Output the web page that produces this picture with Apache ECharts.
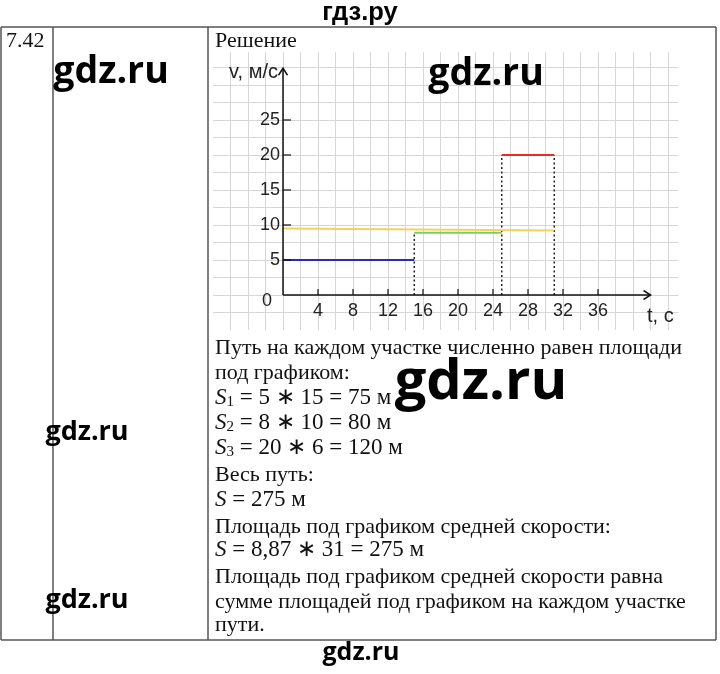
<!DOCTYPE html>
<html><head><meta charset="utf-8">
<script src="https://cdn.jsdelivr.net/npm/echarts@6/dist/echarts.min.js"></script>
<style>html,body{margin:0;padding:0;background:#fff}#c{width:720px;height:674px}</style>
</head><body><div id="c"></div>
<script>
// ---- data ----
const xTicks = [4, 8, 12, 16, 20, 24, 28, 32, 36];
const yTicks = [5, 10, 15, 20, 25];
const blueT = [0, 15], blueV = [5, 5];
const greenT = [15, 25], greenV = [8.9, 8.9];
const redT = [25, 31], redV = [20, 20];
const avgT = [0, 31], avgV = [9.5, 9.2];
const dropT = [15, 25, 31], dropTop = [8.9, 20, 20];
const axisEndT = 42, axisEndV = 32.4;
const xName = 't, c', yName = 'v, м/с';
const taskNo = '7.42';
const heading = 'Решение';
const bodyLines = [
  'Путь на каждом участке численно равен площади',
  'под графиком:',
  '{i|S}{sub|1}{m| = 5 ∗ 15 = 75 м}',
  '{i|S}{sub|2}{m| = 8 ∗ 10 = 80 м}',
  '{i|S}{sub|3}{m| = 20 ∗ 6 = 120 м}',
  'Весь путь:',
  '{i|S}{m| = 275 м}',
  'Площадь под графиком средней скорости:',
  '{i|S}{m| = 8,87 ∗ 31 = 275 м}',
  'Площадь под графиком средней скорости равна',
  'сумме площадей под графиком на каждом участке',
  'пути.'
];
const bodyY = [348, 373, 398, 423, 448, 475, 500, 527, 550, 577, 602, 625];

const pair = (ts, vs) => ts.map((t, i) => [t, vs[i]]);

const chart = echarts.init(document.getElementById('c'), null, {renderer: 'canvas'});

const serif = '"Liberation Serif", "Times New Roman", serif';
const sans = '"Liberation Sans", Arial, sans-serif';
const wm = '"Open Sans", "DejaVu Sans", sans-serif';

const graphics = [];
// table borders
const border = {stroke: '#555', lineWidth: 1.5};
[[1, 27, 716, 27], [1, 640, 716, 640], [1, 27, 1, 640], [716, 27, 716, 640], [53, 27, 53, 640], [208, 27, 208, 640]]
  .forEach(s => graphics.push({type: 'line', shape: {x1: s[0], y1: s[1], x2: s[2], y2: s[3]}, style: border, z: 10}));
graphics.push({type: 'text', x: 6, y: 41, style: {text: taskNo, font: '22px ' + serif, fill: '#111', verticalAlign: 'middle'}});
graphics.push({type: 'text', x: 215, y: 41, style: {text: heading, font: '22px ' + serif, fill: '#111', verticalAlign: 'middle'}});
bodyLines.forEach((t, i) => {
  graphics.push({type: 'text', x: 215, y: bodyY[i], style: {
    text: t, font: '22px ' + serif, fill: '#111', verticalAlign: 'middle',
    rich: {
      i: {fontStyle: 'italic', fontSize: 23, fontFamily: serif, lineHeight: 24},
      m: {fontSize: 23, fontFamily: serif, lineHeight: 24},
      sub: {fontSize: 15, fontFamily: serif, lineHeight: 15, verticalAlign: 'bottom'}
    }
  }});
});
// axis names
graphics.push({type: 'text', x: 278, y: 72, style: {text: yName, font: '20px ' + sans, fill: '#222', align: 'right', verticalAlign: 'middle'}, z: 20});
graphics.push({type: 'text', x: 647, y: 316, style: {text: xName, font: '20px ' + sans, fill: '#222', align: 'left', verticalAlign: 'middle'}, z: 20});
// watermarks: text, center x, center y, size, family
const marks = [
  ['гдз.ру', 360, 13, 25.5, sans],
  ['gdz.ru', 111, 72, 37.5, wm],
  ['gdz.ru', 486, 74, 37.5, wm],
  ['gdz.ru', 481, 383, 56, wm],
  ['gdz.ru', 87, 432, 27, wm],
  ['gdz.ru', 87, 600, 27, wm],
  ['gdz.ru', 361, 653, 25, wm]
];
marks.forEach(m => graphics.push({type: 'text', x: m[1], y: m[2], z: 50,
  style: {text: m[0], font: 'bold ' + m[3] + 'px ' + m[4], fill: '#000', align: 'center', verticalAlign: 'middle'}}));

const lineS = (data, color, extra) => Object.assign({
  type: 'line', xAxisIndex: 0, yAxisIndex: 0, data, showSymbol: false, symbol: 'none',
  lineStyle: {color, width: 2}, silent: true, animation: false, z: 5
}, extra || {});

const series = [
  // axes lines with chevron arrows
  {type: 'line', xAxisIndex: 0, yAxisIndex: 0, animation: false, silent: true, z: 8,
    data: [{value: [0, 0], symbol: 'none'}, {value: [axisEndT, 0], symbol: 'path://M0,0L10,6L0,12', symbolSize: [7, 9], symbolOffset: [-3.5, 0]}],
    showSymbol: true, showAllSymbol: true, lineStyle: {color: '#111', width: 1.5},
    itemStyle: {color: 'none', borderColor: '#111', borderWidth: 1.5}},
  {type: 'line', xAxisIndex: 0, yAxisIndex: 0, animation: false, silent: true, z: 8,
    data: [{value: [0, 0], symbol: 'none'}, {value: [0, axisEndV], symbol: 'path://M0,12L6,0L12,12', symbolSize: [9, 7], symbolOffset: [0, 3.5]}],
    showSymbol: true, showAllSymbol: true, lineStyle: {color: '#111', width: 1.5},
    itemStyle: {color: 'none', borderColor: '#111', borderWidth: 1.5}},
  // ticks
  {type: 'scatter', xAxisIndex: 0, yAxisIndex: 0, data: xTicks.map(t => [t, 0]), symbol: 'rect',
    symbolSize: [1.5, 6], symbolOffset: [0, -3], itemStyle: {color: '#111'}, silent: true, animation: false, z: 8},
  {type: 'scatter', xAxisIndex: 0, yAxisIndex: 0, data: yTicks.map(v => [0, v]), symbol: 'rect',
    symbolSize: [8, 1.5], symbolOffset: [4, 0], itemStyle: {color: '#111'}, silent: true, animation: false, z: 8},
  // data segments
  lineS(pair(avgT, avgV), '#f2d35a'),
  lineS(pair(blueT, blueV), '#2b2bb8'),
  lineS(pair(greenT, greenV), '#78d060'),
  lineS(pair(redT, redV), '#e82a2a')
];
dropT.forEach((t, i) => series.push(lineS([[t, 0], [t, dropTop[i]]], '#222', {lineStyle: {color: '#222', width: 1.5, type: [2, 2.5]}, z: 4})));

chart.setOption({
  animation: false,
  backgroundColor: '#fff',
  grid: [
    {left: 213, top: 52, width: 465.5, height: 278},
    {left: 283, top: 68.2, width: 367.5, height: 226.8}
  ],
  xAxis: [
    {type: 'value', gridIndex: 0, min: -8, max: 45.2, interval: 2,
      axisLine: {show: false}, axisTick: {show: false}, axisLabel: {show: false},
      splitLine: {show: true, showMinLine: false, showMaxLine: false, lineStyle: {color: '#d6d6d6', width: 1}}},
    {type: 'value', gridIndex: 1, min: 0, max: 42, interval: 4,
      axisLine: {show: false}, axisTick: {show: false}, splitLine: {show: false},
      axisLabel: {margin: 7, fontSize: 18, fontFamily: sans, color: '#222',
        formatter: v => (xTicks.indexOf(v) >= 0 ? String(v) : '')}}
  ],
  yAxis: [
    {type: 'value', gridIndex: 0, min: -5, max: 34.714, interval: 2.5,
      axisLine: {show: false}, axisTick: {show: false}, axisLabel: {show: false},
      splitLine: {show: true, showMinLine: false, showMaxLine: false, lineStyle: {color: '#d6d6d6', width: 1}}},
    {type: 'value', gridIndex: 1, min: 0, max: 32.43, interval: 5,
      axisLine: {show: false}, axisTick: {show: false}, splitLine: {show: false},
      axisLabel: {margin: 3, fontSize: 18, fontFamily: sans, color: '#222',
        formatter: v => (v === 0 ? '{z|0}' : (yTicks.indexOf(v) >= 0 ? String(v) : '')),
        rich: {z: {fontSize: 18, fontFamily: sans, color: '#222', padding: [12, 8, 0, 0]}}}}
  ],
  series,
  graphic: {elements: graphics}
});
</script></body></html>
